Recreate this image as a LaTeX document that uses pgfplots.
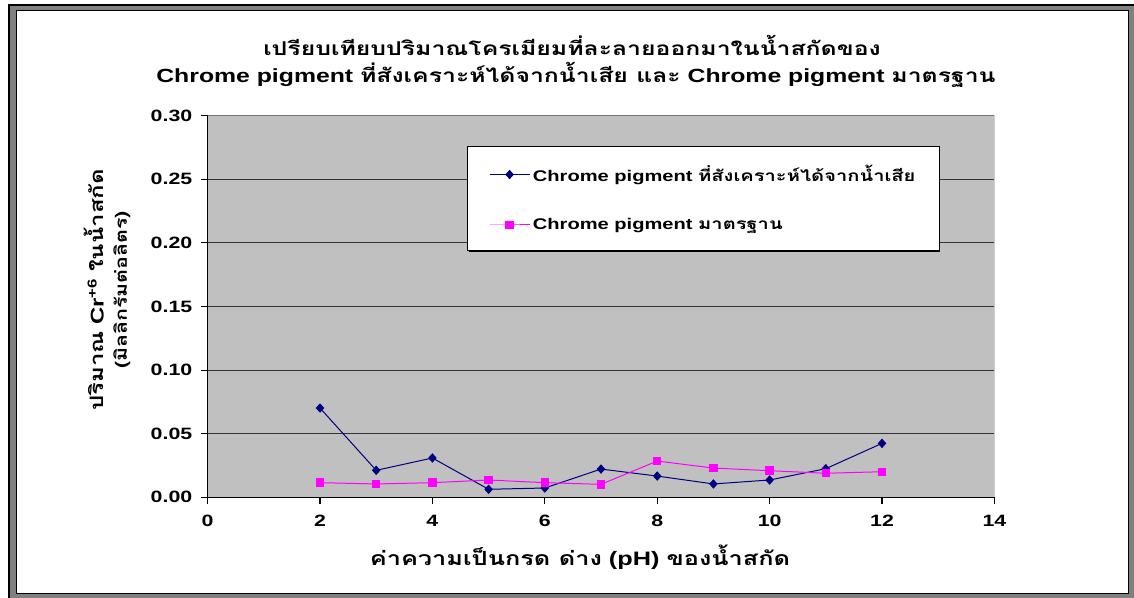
\documentclass[border=0pt]{standalone}
\usepackage{pgfplots}
\pgfplotsset{compat=1.18}
\usepackage{fontspec}
\setmainfont{Liberation Sans}[FakeStretch=1.3]
\newfontfamily\thaifont[Script=Thai,FakeStretch=1.3]{Loma}
\definecolor{plotgray}{RGB}{192,192,192}
\definecolor{framegray}{RGB}{128,128,128}
\definecolor{navyblue}{RGB}{0,0,128}
\definecolor{mag}{RGB}{255,0,255}
\begin{document}
\begin{tikzpicture}
\begin{scope}[x=0.75pt,y=-0.75pt]
\useasboundingbox (0,0) rectangle (1134,598);
\fill[framegray] (8,4) rectangle (1134,598);
\draw[black,line width=1.5pt] (9,598) -- (9,4.7) -- (1134,4.7);
\fill[white] (16.5,10.5) rectangle (1128.5,593.5);
\draw[black,line width=1.3pt] (16.5,10.5) rectangle (1128.5,593.5);
\node[font=\bfseries\fontsize{14.3}{16}\selectfont] at (572,45) {\thaifont เปรียบเทียบปริมาณโครเมียมที่ละลายออกมาในน้ำสกัดของ};
\node[font=\bfseries\fontsize{14.3}{16}\selectfont] at (576,75) {Chrome pigment {\thaifont ที่สังเคราะห์ได้จากน้ำเสีย และ} Chrome pigment {\thaifont มาตรฐาน}};
\node[rotate=90,font=\bfseries\fontsize{13.8}{15}\selectfont] at (94,290) {{\thaifont ปริมาณ} Cr\textsuperscript{+6} {\thaifont ในน้ำสกัด}};
\node[rotate=90,font=\bfseries\fontsize{12.3}{14}\selectfont] at (122,290) {\thaifont (มิลลิกรัมต่อลิตร)};
\node[font=\bfseries\fontsize{14.6}{16}\selectfont] at (580,557) {{\thaifont ค่าความเป็นกรด ด่าง} (pH) {\thaifont ของน้ำสกัด}};
\end{scope}
\begin{axis}[
  at={(155.7pt,-372.975pt)}, anchor=south west,
  scale only axis, width=590.1pt, height=286.2pt,
  xmin=0, xmax=14, ymin=0, ymax=0.30,
  xtick={0,2,4,6,8,10,12,14},
  ytick={0,0.05,0.10,0.15,0.20,0.25,0.30},
  axis lines=left, axis line style={-, line width=1pt, black},
  tick align=outside, major tick length=5pt,
  tick style={black, line width=0.8pt},
  ymajorgrids, grid style={black!80, line width=0.8pt},
  axis background/.style={fill=plotgray},
  ticklabel style={font=\bfseries\fontsize{12.3}{14}\selectfont},
  /pgf/number format/assume math mode=true,
  yticklabel style={xshift=-3pt, /pgf/number format/.cd, fixed, fixed zerofill, precision=2},
  xticklabel style={yshift=-5pt, /pgf/number format/.cd, fixed, precision=0},
  legend style={at={(0.3297,0.9206)}, anchor=north west, draw=black, line width=1pt, fill=white,
    font=\bfseries\fontsize{11.6}{13}\selectfont, row sep=22pt, inner xsep=16pt, inner ysep=12pt},
  legend cell align=left,
  legend image code/.code={\draw[mark repeat=2,mark phase=2] plot coordinates {(0cm,0cm) (0.53cm,0cm) (1.06cm,0cm)};},
]
\draw[black!55, line width=0.8pt] (rel axis cs:0,1) -- (rel axis cs:1,1) -- (rel axis cs:1,0);
\fill[black] (axis cs:4.66,0.2742) rectangle (axis cs:13.031,0.1929);
\addplot[navyblue, line width=0.75pt, mark=diamond*, mark size=3pt, mark options={xscale=1.2, fill=navyblue, draw=navyblue}]
 coordinates {(2,0.0702) (3,0.0212) (4,0.0309) (5,0.0063) (6,0.0073) (7,0.0222) (8,0.0167) (9,0.0105) (10,0.0136) (11,0.0225) (12,0.0424)};
\addlegendentry{Chrome pigment {\thaifont ที่สังเคราะห์ได้จากน้ำเสีย}}
\addplot[mag, line width=0.75pt, mark=square*, mark size=2.8pt, mark options={fill=mag, draw=mag}]
 coordinates {(2,0.0115) (3,0.0105) (4,0.0115) (5,0.0136) (6,0.0115) (7,0.0102) (8,0.0285) (9,0.0230) (10,0.0209) (11,0.0189) (12,0.0201)};
\addlegendentry{Chrome pigment {\thaifont มาตรฐาน}}
\end{axis}
\end{tikzpicture}
\end{document}
